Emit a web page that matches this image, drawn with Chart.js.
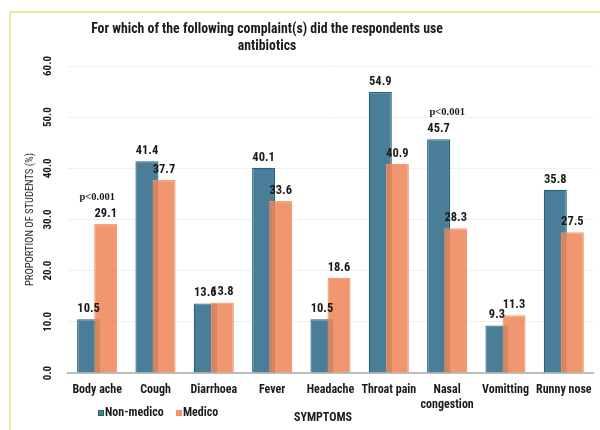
<!DOCTYPE html>
<html>
<head>
<meta charset="utf-8">
<script src="https://cdn.jsdelivr.net/npm/chart.js@4.4.1/dist/chart.umd.min.js"></script>
<style>
  html, body { margin: 0; padding: 0; background: #fff; }
  #wrap { width: 600px; height: 430px; }
</style>
</head>
<body>
<div id="wrap"><canvas id="antibioticsChart" width="600" height="430"></canvas></div>
<script>
const symptoms = [
  "Body ache",
  "Cough",
  "Diarrhoea",
  "Fever",
  "Headache",
  "Throat pain",
  ["Nasal", "congestion"],
  "Vomitting",
  "Runny nose",
];
const nonMedico = [10.5, 41.4, 13.6, 40.1, 10.5, 54.9, 45.7, 9.3, 35.8];
const medico = [29.1, 37.7, 13.8, 33.6, 18.6, 40.9, 28.3, 11.3, 27.5];
const pValues = ["p<0.001", "", "", "", "", "", "p<0.001", "", ""];
const titleLines = [
  "For which of the following complaint(s) did the respondents use",
  "antibiotics",
];

const narrow = "'Liberation Sans Narrow', 'Arial Narrow', 'Roboto Condensed', 'Liberation Sans', sans-serif";
const ink = "#1b1b1b";
Chart.defaults.font.family = narrow;
Chart.defaults.color = ink;

// pale frame round the chart, like the exported picture
const framePlugin = {
  id: "frame",
  beforeDraw(chart) {
    const ctx = chart.ctx;
    ctx.save();
    ctx.strokeStyle = "#e8eaa6";
    ctx.lineWidth = 2;
    ctx.strokeRect(10, 12, 620, 440);
    ctx.restore();
  },
};

// blue bars behind, orange bars on top (but blue keeps the left slot)
const drawOrderPlugin = {
  id: "drawOrder",
  beforeDatasetsDraw(chart) {
    chart.getDatasetMeta(0).controller.draw();
  },
  beforeDatasetDraw(chart, args) {
    if (args.index === 0) return false;
  },
};

const labelsPlugin = {
  id: "barLabels",
  afterDatasetsDraw(chart) {
    const ctx = chart.ctx;
    ctx.save();
    ctx.fillStyle = ink;
    ctx.textAlign = "center";
    ctx.textBaseline = "alphabetic";
    ctx.font = "bold 12.5px " + narrow;
    chart.data.datasets.forEach((ds, i) => {
      chart.getDatasetMeta(i).data.forEach((bar, j) => {
        ctx.fillText(ds.data[j].toFixed(1), bar.x, bar.y - 7);
      });
    });

    // significance marks
    const x = chart.scales.x;
    const y = chart.scales.y;
    ctx.font = "bold 10.5px 'Liberation Serif', 'DejaVu Serif', serif";
    pValues.forEach((p, i) => {
      if (!p) return;
      const top = Math.max(nonMedico[i], medico[i]);
      ctx.fillText(p, x.getPixelForValue(i), y.getPixelForValue(top) - 24);
    });
    ctx.restore();
  },
  afterDraw(chart) {
    const ctx = chart.ctx;
    ctx.save();
    ctx.fillStyle = ink;
    ctx.textAlign = "center";
    ctx.textBaseline = "middle";
    ctx.font = "bold 13.8px " + narrow;
    ctx.fillText(titleLines[0], 267, 30);
    ctx.fillText(titleLines[1], 267, 47);

    // x axis title, on the same row as the legend
    ctx.font = "bold 12px " + narrow;
    ctx.fillText("SYMPTOMS", 323, 418);

    // legend
    ctx.textAlign = "left";
    const items = [
      { text: "Non-medico", fill: "#4a7e98", line: "#23627c", x: 98 },
      { text: "Medico", fill: "#f0956a", line: "#f0956a", x: 176 },
    ];
    items.forEach((it) => {
      ctx.fillStyle = it.fill;
      ctx.fillRect(it.x, 410, 6, 6);
      ctx.strokeStyle = it.line;
      ctx.lineWidth = 1;
      ctx.strokeRect(it.x + 0.5, 410.5, 5, 5);
      ctx.fillStyle = ink;
      ctx.fillText(it.text, it.x + 7, 413);
    });
    ctx.restore();
  },
};

new Chart(document.getElementById("antibioticsChart"), {
  type: "bar",
  data: {
    labels: symptoms,
    datasets: [
      {
        label: "Non-medico",
        data: nonMedico,
        backgroundColor: "#4a7e98",
        borderColor: "#23627c",
        borderWidth: 1.2,
        categoryPercentage: 0.585,
        barPercentage: 1.35,
      },
      {
        label: "Medico",
        data: medico,
        backgroundColor: "rgba(238,134,88,0.86)",
        borderColor: "rgba(240,150,105,0.9)",
        borderWidth: 1.2,
        categoryPercentage: 0.585,
        barPercentage: 1.35,
      },
    ],
  },
  options: {
    responsive: false,
    animation: false,
    layout: { padding: { top: 66, right: 7, bottom: 19, left: 0 } },
    plugins: {
      legend: { display: false },
      title: { display: false },
      tooltip: { enabled: false },
    },
    scales: {
      x: {
        grid: { display: false },
        border: { color: "#bdbdbd", width: 2 },
        ticks: {
          padding: 2,
          maxRotation: 0,
          autoSkip: false,
          font: { size: 12, weight: "bold", lineHeight: 1.2 },
        },
        afterFit(scale) {
          scale.height = 38;
        },
      },
      y: {
        min: 0,
        max: 60,
        grid: { color: "#f0f0f0", drawTicks: false },
        border: { display: false },
        ticks: {
          stepSize: 10,
          minRotation: 90,
          maxRotation: 90,
          crossAlign: "center",
          padding: 10,
          font: { size: 11, weight: "bold" },
          callback: (v) => v.toFixed(1),
        },
        title: {
          display: true,
          text: "PROPORTION OF STUDENTS (%)",
          font: { size: 10.5 },
          color: "#2a2a2a",
          padding: { top: 24, bottom: 0 },
        },
        afterFit(scale) {
          scale.width = 68;
        },
      },
    },
  },
  plugins: [framePlugin, drawOrderPlugin, labelsPlugin],
});
</script>
</body>
</html>
